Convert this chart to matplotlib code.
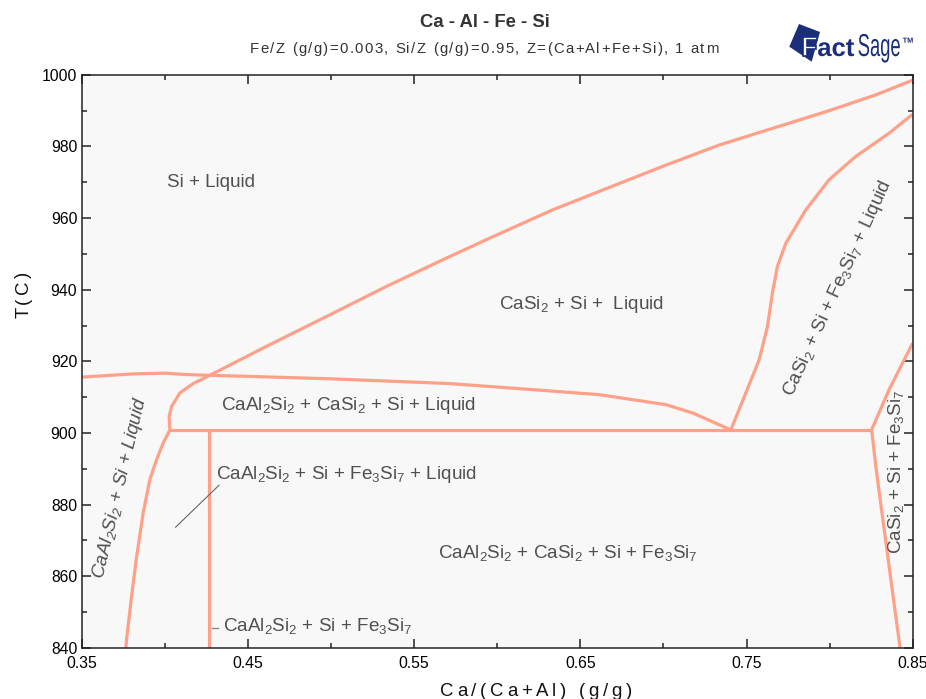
import matplotlib
matplotlib.use("Agg")
import matplotlib.pyplot as plt
from matplotlib.font_manager import FontProperties, findfont, get_font
from matplotlib.textpath import TextPath
from matplotlib.patches import PathPatch, Polygon
from matplotlib.transforms import Affine2D
from matplotlib.ticker import FixedLocator, FormatStrFormatter

plt.rcParams["font.family"] = ["Liberation Sans", "DejaVu Sans"]
plt.rcParams["mathtext.fontset"] = "custom"
plt.rcParams["mathtext.rm"] = "Liberation Sans"
plt.rcParams["mathtext.it"] = "Liberation Sans:italic"
plt.rcParams["mathtext.default"] = "regular"

# ---------------- phase boundaries: Ca/(Ca+Al) vs T(C) ----------------
# CaAl2Si2 saturation rising into the Si liquidus
liq_x = [0.3766, 0.3770, 0.3800, 0.3831, 0.3870, 0.3910, 0.3951, 0.3990,
         0.4031, 0.4026, 0.4041, 0.4091, 0.4171, 0.4271, 0.4612, 0.4972,
         0.5333, 0.5693, 0.5974, 0.6334, 0.6715, 0.7016, 0.7336, 0.7757,
         0.7998, 0.8278, 0.8500]
liq_t = [840.0, 842.4, 854.4, 865.6, 877.7, 887.0, 892.6, 897.2,
         900.9, 904.6, 907.4, 911.2, 913.8, 916.1, 924.2, 932.5,
         940.9, 948.8, 954.8, 962.3, 969.3, 974.8, 980.4, 986.5,
         990.0, 994.4, 998.5]

# CaSi2 appearance boundary (upper limit of the four-phase field)
casi2_x = [0.3500, 0.3810, 0.4001, 0.4131, 0.4271, 0.4511, 0.5012, 0.5713,
           0.6214, 0.6615, 0.7016, 0.7176, 0.7336, 0.7406]
casi2_t = [915.6, 916.5, 916.7, 916.3, 916.1, 915.8, 915.1, 913.8,
           912.1, 910.7, 907.9, 905.6, 902.3, 900.9]

# Fe3Si7 appearance boundary on the Ca-rich side
fesi_x = [0.7406, 0.7496, 0.7576, 0.7626, 0.7656, 0.7686, 0.7737, 0.7857,
          0.7997, 0.8157, 0.8358, 0.8500]
fesi_t = [900.9, 911.2, 920.4, 929.7, 939.1, 946.5, 953.0, 962.3,
          970.7, 977.2, 983.7, 989.0]

# invariant line
inv_x = [0.4031, 0.8253]
inv_t = [900.9, 900.9]

# vertical boundary below the invariant
vert_x = [0.4267, 0.4267]
vert_t = [900.9, 840.0]

# Ca-rich side boundaries
right_up_x = [0.8253, 0.8358, 0.8500]
right_up_t = [900.9, 912.1, 925.1]
right_lo_x = [0.8253, 0.8278, 0.8318, 0.8358, 0.8398, 0.8424]
right_lo_t = [900.9, 890.7, 876.7, 862.8, 848.9, 840.0]

# leader lines for the small fields
lead1_x = [0.4065, 0.4326]
lead1_t = [873.7, 885.4]
lead2_x = [0.4285, 0.4321]
lead2_t = [845.6, 845.6]

x_major = [0.35, 0.45, 0.55, 0.65, 0.75, 0.85]
x_minor = [0.40, 0.50, 0.60, 0.70, 0.80]
y_major = [840, 860, 880, 900, 920, 940, 960, 980, 1000]
y_minor = [850, 870, 890, 910, 930, 950, 970, 990]

TITLE = "Ca - Al - Fe - Si"
SUBTITLE = "Fe/Z (g/g)=0.003, Si/Z (g/g)=0.95, Z=(Ca+Al+Fe+Si), 1 atm"
XLABEL = "Ca/(Ca+Al) (g/g)"
YLABEL = "T(C)"

W, H, DPI = 926, 699, 100
LINE = "#ffa088"
TXT = "#505050"
NAVY = "#1b2e7a"

fig = plt.figure(figsize=(W / DPI, H / DPI), dpi=DPI)
fig.patch.set_facecolor("white")
ax = fig.add_axes([81.7 / W, 1 - 647.9 / H, (912.7 - 81.7) / W, (647.9 - 74.8) / H])
ax.set_facecolor("#f8f8f8")
ax.set_xlim(0.35, 0.85)
ax.set_ylim(840, 1000)

for xs, ts in [(liq_x, liq_t), (casi2_x, casi2_t), (fesi_x, fesi_t),
               (inv_x, inv_t), (vert_x, vert_t), (right_up_x, right_up_t),
               (right_lo_x, right_lo_t)]:
    ax.plot(xs, ts, color=LINE, lw=2.3, solid_capstyle="butt",
            solid_joinstyle="round")

ax.plot(lead1_x, lead1_t, color="#666666", lw=0.8)
ax.plot(lead2_x, lead2_t, color="#888888", lw=1.0)

# ---------------- phase-field labels ----------------
fs = 13.6
ax.text(0.4011, 969.9, "Si + Liquid", ha="left", va="center", fontsize=fs, color=TXT)
ax.text(0.6010, 935.8, "CaSi$_2$ + Si +  Liquid", ha="left", va="center",
        fontsize=fs, color=TXT)
ax.text(0.4341, 907.6, "CaAl$_2$Si$_2$ + CaSi$_2$ + Si + Liquid", ha="left",
        va="center", fontsize=fs, color=TXT)
ax.text(0.4307, 888.4, "CaAl$_2$Si$_2$ + Si + Fe$_3$Si$_7$ + Liquid", ha="left",
        va="center", fontsize=fs, color=TXT)
ax.text(0.5641, 866.6, "CaAl$_2$Si$_2$ + CaSi$_2$ + Si + Fe$_3$Si$_7$", ha="left",
        va="center", fontsize=fs, color=TXT)
ax.text(0.4351, 846.1, "CaAl$_2$Si$_2$ + Si + Fe$_3$Si$_7$", ha="left",
        va="center", fontsize=fs, color=TXT)
ax.text(0.3734, 884.7, "CaAl$_2$Si$_2$ + Si + Liquid", ha="center", va="center",
        rotation=76.7, rotation_mode="anchor", fontsize=fs, color=TXT,
        style="italic")
ax.text(0.8047, 940.4, "CaSi$_2$ + Si + Fe$_3$Si$_7$ + Liquid", ha="center",
        va="center", rotation=65.3, rotation_mode="anchor", fontsize=fs,
        color=TXT)
ax.text(0.8398, 889.1, "CaSi$_2$ + Si + Fe$_3$Si$_7$", ha="center", va="center",
        rotation=90, rotation_mode="anchor", fontsize=fs, color=TXT)

# ---------------- axes styling ----------------
ax.xaxis.set_major_locator(FixedLocator(x_major))
ax.xaxis.set_minor_locator(FixedLocator(x_minor))
ax.yaxis.set_major_locator(FixedLocator(y_major))
ax.yaxis.set_minor_locator(FixedLocator(y_minor))
ax.xaxis.set_major_formatter(FormatStrFormatter("%.2f"))
ax.yaxis.set_major_formatter(FormatStrFormatter("%d"))
ax.tick_params(which="both", direction="in", top=True, right=True,
               width=1.1, color="#222222", labelsize=11.3, labelcolor="black")
ax.tick_params(which="major", length=6.5)
ax.tick_params(which="minor", length=3.6)
ax.tick_params(axis="x", pad=5.5)
ax.tick_params(axis="y", pad=3.2)
for sp in ax.spines.values():
    sp.set_color("#222222")
    sp.set_linewidth(1.1)


def fig_xy(x_px, y_px):
    return x_px / W, 1 - y_px / H


def tracked_text(s, cx, base, size, width, rotation=0, color="black",
                 weight="normal"):
    """Draw text one glyph at a time so the string spans a given width."""
    prop = FontProperties(family="Liberation Sans", size=size, weight=weight)
    font = get_font(findfont(prop))
    font.set_size(size, DPI)
    adv = [font.load_char(ord(c)).linearHoriAdvance / 65536 for c in s]
    gap = (width - sum(adv)) / max(len(s) - 1, 1)
    pos = -width / 2
    for c, a in zip(s, adv):
        if rotation == 0:
            x, y = cx + pos, base
        else:
            x, y = base, cx - pos
        fig.text(*fig_xy(x, y), c, rotation=rotation, rotation_mode="anchor",
                 ha="left", va="baseline", fontproperties=prop, color=color)
        pos += a + gap


fig.text(*fig_xy(485, 26.7), TITLE, ha="center", va="baseline", fontsize=13.3,
         fontweight="bold", color="#333333")
tracked_text(SUBTITLE, 484, 53.3, 10.7, 468, color="#333333")
tracked_text(XLABEL, 536, 696, 13.4, 192, color="#111111")
tracked_text(YLABEL, 295, 28.3, 13.4, 46.7, rotation=90, color="#111111")

# ---------------- FactSage mark ----------------
fig.add_artist(Polygon([fig_xy(789.3, 46.7), fig_xy(799, 24), fig_xy(820, 32),
                        fig_xy(811.7, 61.7)], closed=True,
                       transform=fig.transFigure, facecolor=NAVY,
                       edgecolor="none"))


def mark_text(s, x0, base, em, sx=1.0, weight="bold", face=NAVY,
              edge="none", lw=0.0):
    tp = TextPath((0, 0), s, size=1,
                  prop=FontProperties(family="Liberation Sans", weight=weight))
    tr = Affine2D().scale(em * sx / W, em / H).translate(x0 / W, 1 - base / H)
    fig.add_artist(PathPatch(tp, transform=tr + fig.transFigure,
                             facecolor=face, edgecolor=edge, lw=lw))


mark_text("F", 800.7, 56, 28, face="white", edge=NAVY, lw=1.2)
mark_text("act", 817.3, 56, 25.6)
mark_text("Sage", 857.7, 56, 31.7, sx=0.58, weight="normal")
mark_text("TM", 902.7, 42.7, 7.3)

fig.savefig("out.png", dpi=DPI)
